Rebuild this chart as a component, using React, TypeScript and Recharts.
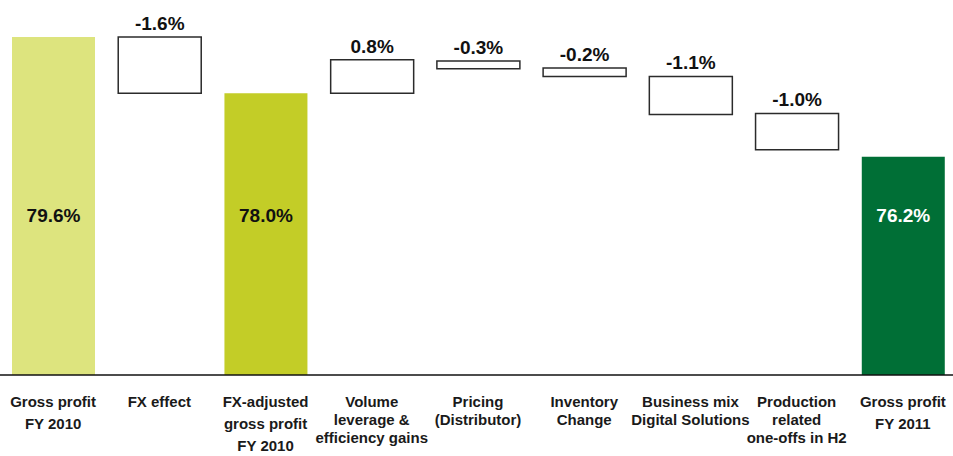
import { BarChart, Bar, XAxis, YAxis, Cell, LabelList } from "recharts";

// bar categories (x axis), line breaks as in the slide
const categories = [
  "Gross profit\nFY 2010",
  "FX effect",
  "FX-adjusted\ngross profit\nFY 2010",
  "Volume\nleverage &\nefficiency gains",
  "Pricing\n(Distributor)",
  "Inventory\nChange",
  "Business mix\nDigital Solutions",
  "Production\nrelated\none-offs in H2",
  "Gross profit\nFY 2011",
];

// bottom / top of every bar in %
const barLow = [70, 78.0, 70, 78.0, 78.7, 78.48, 77.4, 76.4, 70];
const barHigh = [79.6, 79.6, 78.0, 78.95, 78.92, 78.72, 78.48, 77.43, 76.2];

const valueLabels = ["79.6%", "-1.6%", "78.0%", "0.8%", "-0.3%", "-0.2%", "-1.1%", "-1.0%", "76.2%"];
const isTotal = [true, false, true, false, false, false, false, false, true];

const totalFills = ["#dde47e", "", "#c3cd27", "", "", "", "", "", "#006f36"];
const totalText = ["#111", "", "#111", "", "", "", "", "", "#fff"];

const chartData = categories.map((name, i) => ({
  name,
  idx: i,
  range: [barLow[i], barHigh[i]],
}));

const FONT = "'Liberation Sans', Arial, sans-serif";

function CategoryTick(props: any) {
  const { x, y, payload, index } = props;
  const lines = String(payload.value).split("\n");
  const lh = isTotal[index] ? 22 : 18;
  return (
    <text
      x={x}
      y={y + 32}
      textAnchor="middle"
      fill="#1a1a1a"
      fontFamily={FONT}
      fontWeight="bold"
      fontSize={15}
    >
      {lines.map((l, i) => (
        <tspan key={i} x={x} dy={i === 0 ? 0 : lh}>
          {l}
        </tspan>
      ))}
    </text>
  );
}

function ValueLabel(props: any) {
  const { x, y, width, height, value } = props;
  const i = Number(value);
  const cx = x + width / 2;
  if (isTotal[i]) {
    return (
      <text
        x={cx}
        y={y + height - 160}
        textAnchor="middle"
        dominantBaseline="central"
        fill={totalText[i]}
        fontFamily={FONT}
        fontWeight="bold"
        fontSize={19}
      >
        {valueLabels[i]}
      </text>
    );
  }
  return (
    <text
      x={cx}
      y={y - 7}
      textAnchor="middle"
      fill="#111"
      fontFamily={FONT}
      fontWeight="bold"
      fontSize={19}
    >
      {valueLabels[i]}
    </text>
  );
}

export default function App() {
  return (
    <div
      style={{
        position: "absolute",
        left: 0,
        top: 0,
        width: 953,
        height: 456,
        overflow: "hidden",
        background: "#fff",
      }}
    >
      <BarChart
        width={956}
        height={456}
        data={chartData}
        margin={{ top: 0, right: 0, left: 0, bottom: 0 }}
      >
        <XAxis
          dataKey="name"
          height={81}
          interval={0}
          tickSize={0}
          tickMargin={0}
          tickLine={false}
          axisLine={{ stroke: "#111", strokeWidth: 1.5 }}
          tick={<CategoryTick />}
        />
        <YAxis hide domain={[70, 80.65]} allowDataOverflow />
        <Bar dataKey="range" barSize={83} isAnimationActive={false}>
          {chartData.map((d, i) => (
            <Cell
              key={d.name}
              fill={isTotal[i] ? totalFills[i] : "#ffffff"}
              stroke={isTotal[i] ? "none" : "#2b2b2b"}
              strokeWidth={isTotal[i] ? 0 : 1.5}
            />
          ))}
          <LabelList dataKey="idx" content={<ValueLabel />} />
        </Bar>
      </BarChart>
    </div>
  );
}
